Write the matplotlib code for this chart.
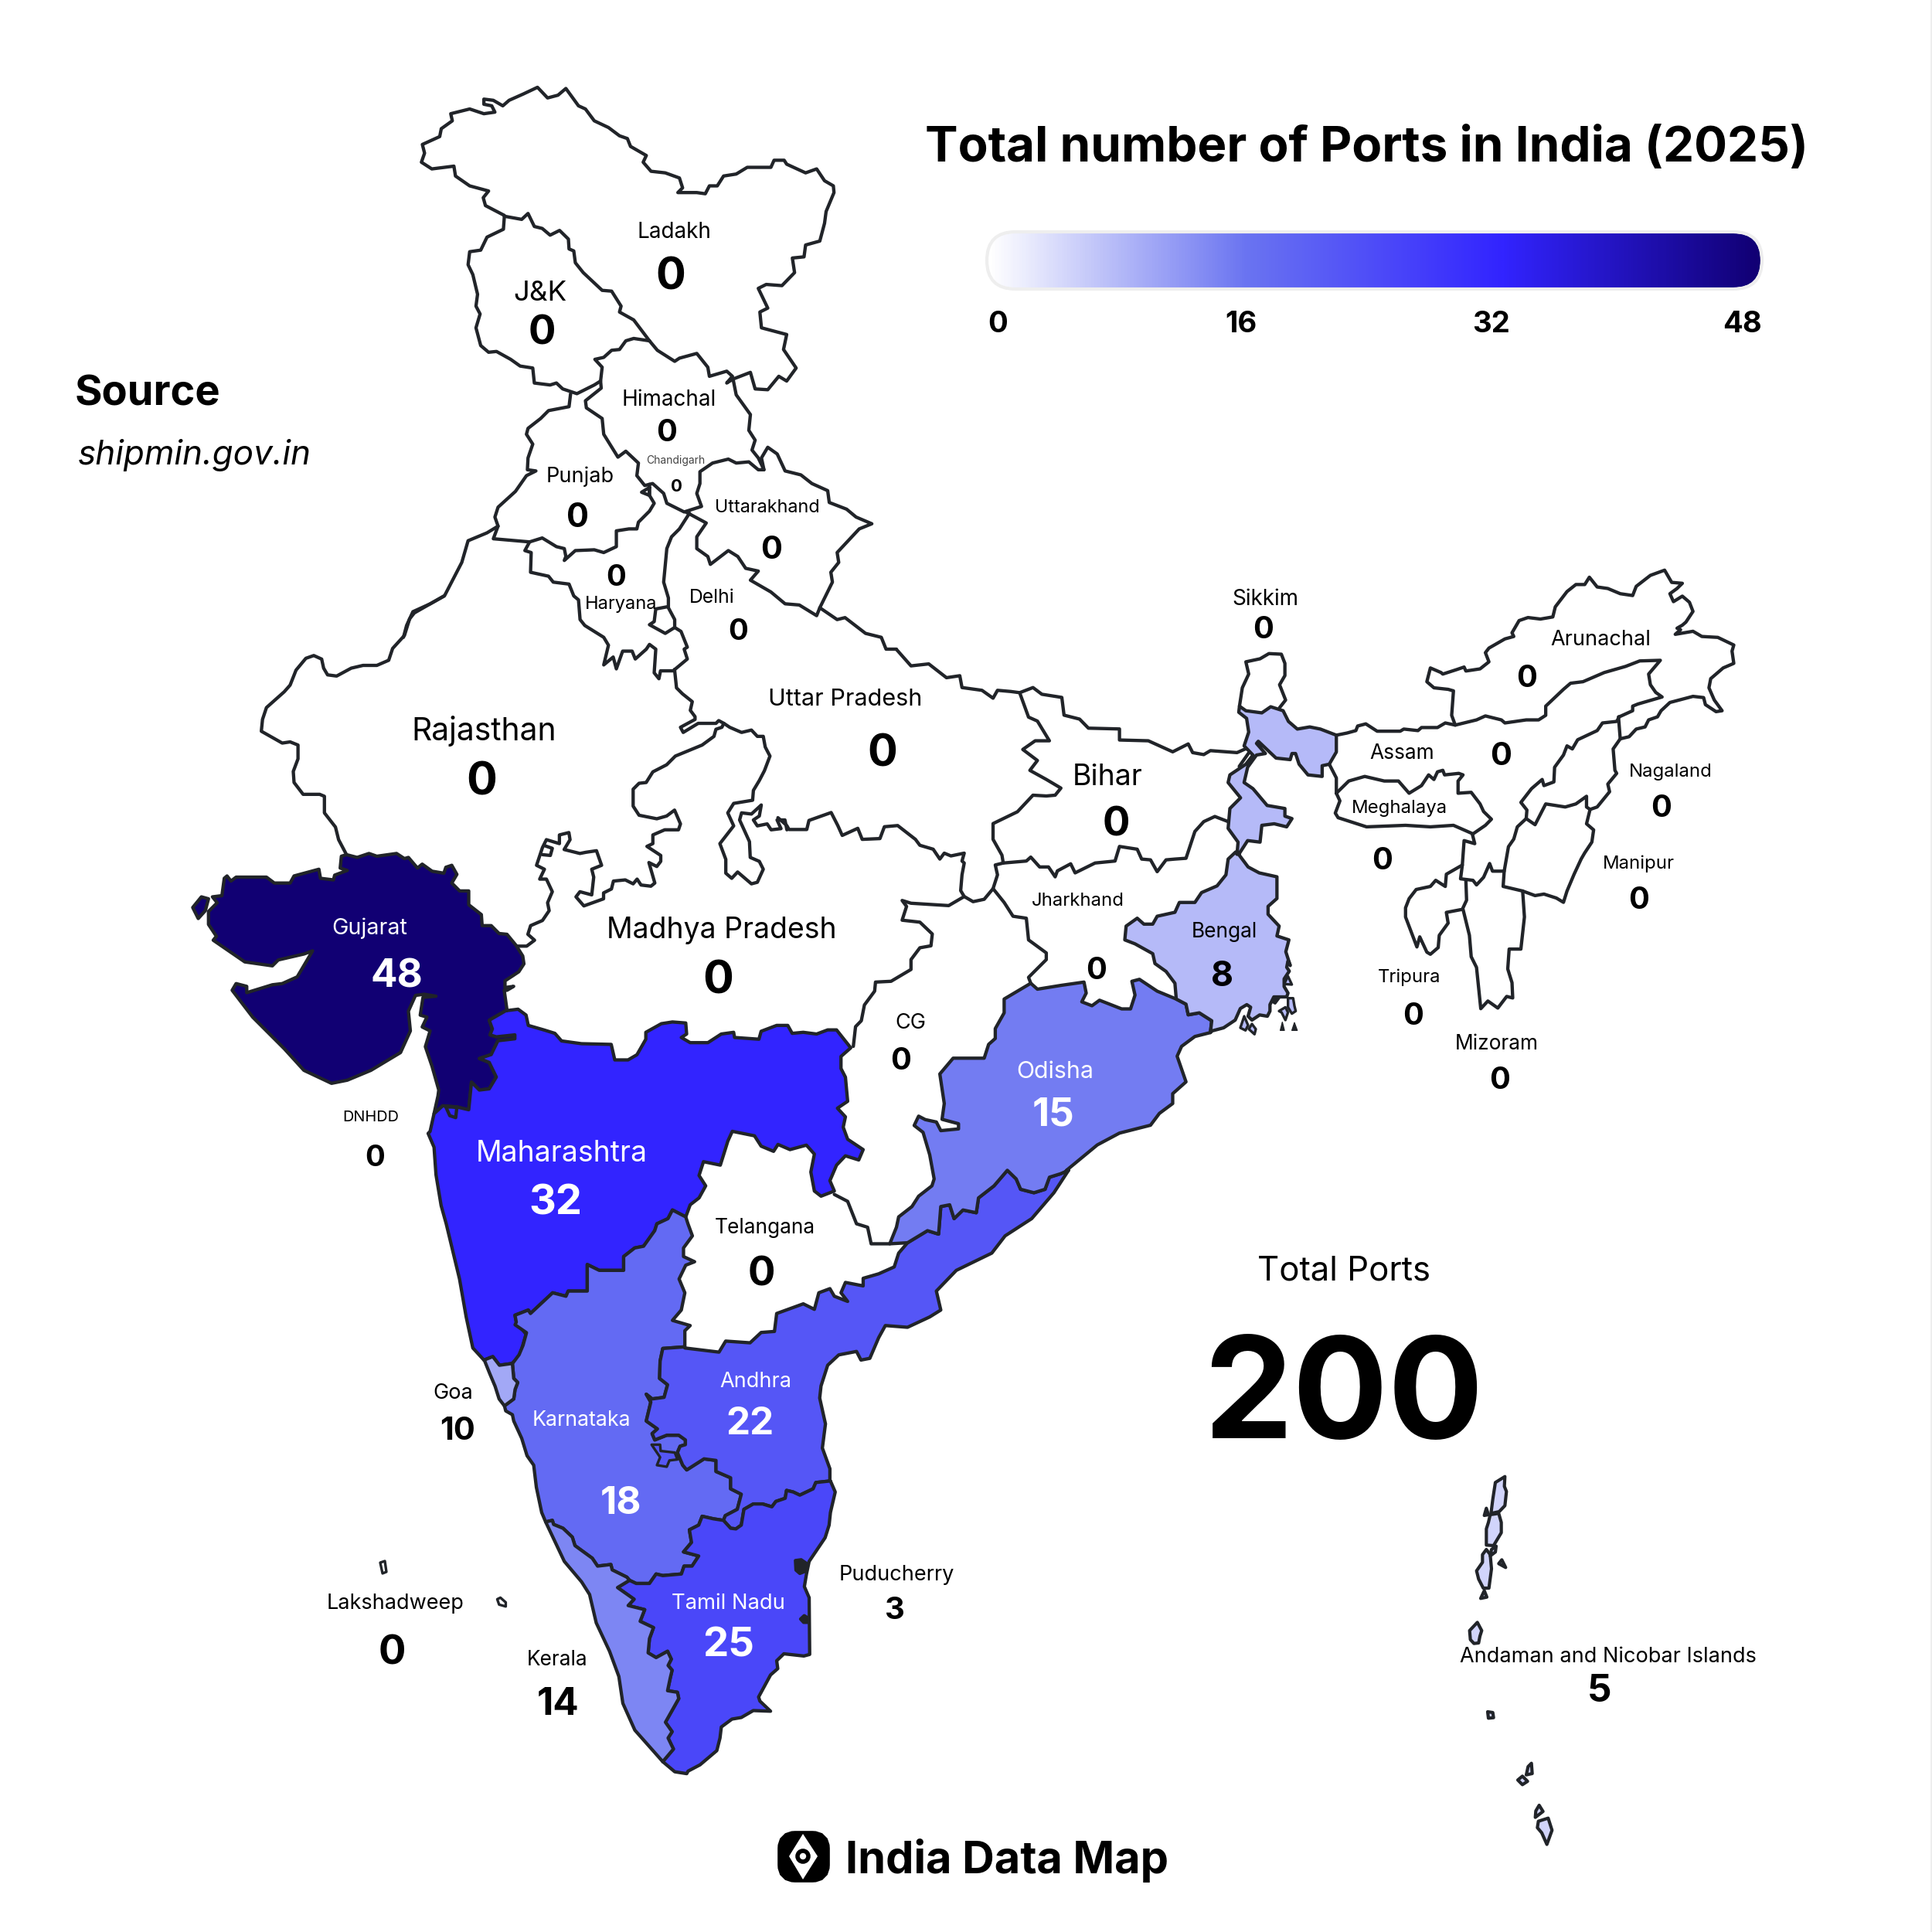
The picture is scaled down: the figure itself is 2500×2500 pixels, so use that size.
import numpy as np
import matplotlib
matplotlib.use('Agg')
import matplotlib.pyplot as plt
from matplotlib.colors import LinearSegmentedColormap
from matplotlib.patches import Polygon, FancyBboxPatch, Circle, Rectangle

plt.rcParams['font.family'] = ['Inter', 'DejaVu Sans']

# values
STATE_NAMES = ['Ladakh', 'J&K', 'Himachal', 'Chandigarh', 'Punjab', 'Uttarakhand', 'Haryana', 'Delhi', 'Sikkim',
               'Arunachal', 'Uttar Pradesh', 'Assam', 'Rajasthan', 'Bihar', 'Nagaland', 'Meghalaya', 'Manipur',
               'Jharkhand', 'Gujarat', 'Bengal', 'Madhya Pradesh', 'CG', 'Tripura', 'Mizoram', 'Odisha', 'DNHDD',
               'Maharashtra', 'Telangana', 'Andhra', 'Goa', 'Karnataka', 'Lakshadweep', 'Puducherry', 'Tamil Nadu',
               'Kerala', 'Andaman and Nicobar Islands']
PORT_COUNTS = [0, 0, 0, 0, 0, 0, 0, 0, 0,
               0, 0, 0, 0, 0, 0, 0, 0,
               0, 48, 8, 0, 0, 0, 0, 15, 0,
               32, 0, 22, 10, 18, 0, 3, 25,
               14, 5]
TOTAL_PORTS = 200
SCALE_TICKS = [0, 16, 32, 48]
SCALE_COLORS = ['#FFFFFF', '#6A74F1', '#3224FF', '#110073']
TITLE = 'Total number of Ports in India (2025)'
SOURCE = 'shipmin.gov.in'

# label layout: label x, y, size, value x, y, size (read at 1568 px wide)
LAYOUT = {
    'Ladakh': (547, 187, 17.5, 544, 222, 36), 'J&K': (438, 236, 23, 440, 268, 33),
    'Himachal': (543, 323, 17.5, 541, 349, 25), 'Chandigarh': (548, 373, 8.7, 549, 394, 14),
    'Punjab': (471, 385, 17, 469, 418, 27), 'Uttarakhand': (623, 411, 14.7, 626, 444, 26),
    'Haryana': (504, 489, 14.8, 500, 467, 24), 'Delhi': (578, 484, 15.5, 599, 511, 24),
    'Sikkim': (1027, 485, 17.5, 1025, 509, 25), 'Arunachal': (1299, 518, 17, 1239, 549, 25),
    'Uttar Pradesh': (686, 566, 19.2, 716, 609, 36), 'Assam': (1138, 610, 16.5, 1218, 612, 26),
    'Rajasthan': (393, 591, 25.6, 391, 632, 37), 'Bihar': (899, 629, 23.5, 906, 667, 33),
    'Nagaland': (1356, 625, 15, 1348, 654, 25), 'Meghalaya': (1136, 655, 15, 1122, 697, 25),
    'Manipur': (1330, 700, 15, 1330, 729, 25), 'Jharkhand': (875, 730, 15, 890, 786, 25),
    'Gujarat': (300, 752, 18, 322, 790, 32), 'Bengal': (994, 755, 16.5, 992, 790, 28),
    'Madhya Pradesh': (586, 753, 23.4, 583, 793, 37), 'CG': (739, 829, 17, 731, 859, 25),
    'Tripura': (1144, 792, 15, 1147, 823, 25), 'Mizoram': (1215, 846, 16.5, 1217, 875, 25),
    'Odisha': (856, 868, 19, 855, 902, 32), 'DNHDD': (301, 906, 12.5, 304, 938, 24),
    'Maharashtra': (456, 934, 23.4, 451, 974, 34), 'Telangana': (621, 995, 16.5, 618, 1032, 33),
    'Andhra': (613, 1120, 17, 609, 1153, 31), 'Goa': (368, 1129, 17, 371, 1159, 26),
    'Karnataka': (472, 1151, 16.8, 504, 1218, 31), 'Lakshadweep': (321, 1300, 17, 318, 1339, 33),
    'Puducherry': (728, 1277, 17, 726, 1305, 25), 'Tamil Nadu': (591, 1300, 17.2, 591, 1333, 33),
    'Kerala': (452, 1346, 16.5, 453, 1381, 31), 'Andaman and Nicobar Islands': (1305, 1343, 17, 1298, 1370, 31),
}
WHITE_TEXT = ['Gujarat', 'Odisha', 'Maharashtra', 'Andhra', 'Karnataka', 'Tamil Nadu']

K = 1568.0
CROP_A = (520, 90, K / 640, K / 800)
CROP_B = (230, 760, K / 800, K / 800)
CROP_C = (800, 780, K / 900, K / 800)
CROP_D = (520, 1280, K / 900, K / 700)
CROP_E = (620, 1700, K / 540, K / 640)
CROP_F = (1580, 720, K / 720, K / 620)
CROP_G = (1860, 1880, 3.0, 3.0)
CROP_H = (1560, 1230, 3.0, 3.0)
CROP_I = (1020, 2000, 3.0, 3.0)


def P(crop, pts):
    a = np.array(pts, dtype=float)
    return np.column_stack((crop[0] + a[:, 0] / crop[2], crop[1] + a[:, 1] / crop[3]))


# ---- coloured states, shared borders ----
guj_a = P(CROP_B, [(428, 678), (455, 685), (485, 675), (505, 682), (555, 675), (575, 688), (585, 685), (608, 712),
                   (620, 702), (645, 720), (675, 725), (680, 710), (695, 705), (708, 728), (695, 750), (715, 770),
                   (738, 770), (738, 805), (770, 830), (772, 858), (795, 858), (815, 878), (835, 880), (858, 908),
                   (875, 935), (878, 955), (865, 975), (850, 985), (830, 998), (830, 1015), (852, 1012), (835, 1022),
                   (828, 1022), (835, 1072)])
guj_mah = P(CROP_B, [(835, 1072), (790, 1098), (798, 1120), (792, 1135), (808, 1140), (855, 1135), (855, 1145),
                     (812, 1150), (795, 1185), (765, 1195), (790, 1205), (808, 1242), (790, 1272), (765, 1275),
                     (745, 1255), (738, 1325), (708, 1318), (680, 1318), (690, 1340), (705, 1345), (708, 1318),
                     (672, 1315), (650, 1335)])
guj_b = P(CROP_B, [(650, 1335), (660, 1290), (662, 1275), (645, 1215), (628, 1165), (640, 1125), (620, 1115), (632, 1090),
                   (615, 1085), (622, 1040), (655, 1037), (625, 1032), (603, 1035), (585, 1075), (590, 1125), (565, 1180),
                   (490, 1225), (430, 1250), (390, 1258), (320, 1225), (270, 1170), (190, 1090), (138, 1022), (148, 1005),
                   (175, 1012), (175, 1028), (240, 1008), (265, 1005), (303, 988), (342, 922), (320, 930), (255, 945),
                   (240, 960), (170, 950), (90, 895), (98, 885), (78, 855), (78, 822), (100, 800), (88, 785), (112, 782),
                   (118, 738), (125, 732), (135, 745), (148, 735), (225, 735), (245, 750), (285, 750), (295, 732),
                   (358, 715), (362, 738), (395, 742), (398, 730), (430, 718), (412, 712), (415, 682)])
guj_island = P(CROP_B, [(38, 812), (60, 785), (78, 790), (70, 820), (52, 840)])

mah_west = P(CROP_B, [(650, 1335), (640, 1380), (635, 1385), (650, 1420), (655, 1490), (668, 1568)])
mah_coast = P(CROP_D, [(100, 680), (115, 760), (130, 840), (145, 950), (160, 1040), (185, 1075)])
mah_goa = P(CROP_D, [(185, 1075), (205, 1065), (220, 1090), (248, 1085)])
mah_ghat = P(CROP_D, [(248, 1085), (265, 1065), (280, 1000), (258, 965)])
mah_kar = P(CROP_D, [(258, 965), (255, 945), (285, 930), (290, 940), (340, 880), (370, 890), (375, 875), (418, 875),
                     (418, 798), (445, 815), (500, 815), (500, 775), (525, 750), (545, 745), (570, 700), (575, 680),
                     (600, 665), (610, 640), (640, 660)])
mah_north = P(CROP_D, [(640, 660), (650, 625), (670, 605), (685, 570), (670, 540), (680, 500), (718, 510), (735, 440),
                       (745, 412), (795, 425), (810, 455), (838, 470), (848, 450), (875, 465), (912, 452), (930, 478),
                       (922, 530), (930, 585), (945, 600), (975, 585), (965, 555), (980, 510), (1000, 483), (1030, 495),
                       (1040, 465), (1005, 435), (995, 400), (1000, 370), (982, 345), (1005, 325), (1000, 255), (990, 230),
                       (990, 195), (1012, 170), (980, 118), (960, 118), (935, 130), (905, 125), (880, 128), (870, 105),
                       (845, 105), (810, 122), (805, 145), (750, 140), (748, 125), (720, 130), (690, 155), (650, 155),
                       (630, 140), (642, 130), (640, 98), (610, 95), (585, 100), (550, 125), (550, 145), (530, 190),
                       (510, 205), (480, 205), (472, 160), (405, 158), (360, 150), (345, 128), (320, 118), (285, 105),
                       (280, 75), (262, 58), (237, 62)])

kar_tel = P(CROP_D, [(640, 660), (645, 680), (655, 715), (635, 750), (635, 775), (660, 790), (640, 800), (625, 840),
                     (638, 880), (630, 930), (610, 960), (650, 975), (638, 990), (638, 1040)])
kar_ap = P(CROP_E, [(772, 105), (690, 110), (680, 150), (678, 205), (708, 225), (695, 265), (650, 270), (628, 255),
                    (645, 280), (628, 340), (670, 365), (650, 380), (660, 400), (705, 385), (750, 385), (775, 400),
                    (775, 415), (755, 420), (745, 440), (765, 480), (780, 495), (845, 460), (890, 465), (890, 500),
                    (945, 520), (945, 555), (985, 572), (970, 620), (925, 640), (918, 655)])
kar_tn = P(CROP_E, [(918, 655), (880, 650), (838, 642), (825, 670), (790, 685), (798, 725), (768, 755), (825, 768),
                    (800, 800), (770, 800), (760, 825), (690, 830), (665, 825), (640, 855), (590, 855), (565, 845)])
kar_ker = P(CROP_E, [(565, 845), (555, 835), (500, 812), (495, 795), (445, 800), (425, 775), (360, 735), (350, 708),
                     (315, 680), (280, 668), (275, 655), (250, 660)])
kar_coast = P(CROP_E, [(250, 660), (235, 630), (215, 550), (205, 480), (180, 450), (160, 395), (130, 340), (125, 320),
                       (100, 308), (95, 292)])
goa_east = P(CROP_E, [(95, 292), (130, 270), (135, 240), (145, 218), (130, 205), (125, 158)])
kar_mah_e = P(CROP_E, [(125, 158), (150, 130), (165, 100), (178, 60), (135, 35)])
goa_west = P(CROP_E, [(20, 148), (40, 190), (60, 230), (75, 270), (95, 292)])
ka_enclave = P(CROP_E, [(648, 415), (680, 415), (682, 435), (735, 440), (745, 462), (715, 465), (705, 485), (668, 480),
                        (680, 455)])

ap_tel = P(CROP_D, [(638, 1040), (715, 1052), (730, 1020), (785, 1025), (810, 995), (840, 992), (845, 940), (905, 912),
                    (930, 928), (940, 880), (965, 868), (975, 890), (1005, 905), (990, 880), (1000, 850), (1040, 860),
                    (1040, 838), (1075, 825), (1110, 805), (1120, 765), (1140, 735)])
ap_odisha = P(CROP_D, [(1140, 735), (1185, 700), (1210, 710), (1215, 630), (1235, 625), (1245, 665), (1265, 640),
                       (1295, 648), (1300, 605), (1335, 570), (1365, 525), (1385, 550), (1395, 580), (1425, 590),
                       (1450, 580), (1460, 545), (1485, 535), (1503, 525)])
ap_coast = P(CROP_D, [(1503, 525), (1470, 590), (1420, 665), (1360, 715), (1330, 765), (1250, 815), (1205, 875),
                      (1215, 930), (1190, 950), (1140, 980), (1090, 975), (1075, 1010), (1055, 1070), (1035, 1075),
                      (1025, 1050), (985, 1060), (960, 1090), (945, 1150), (942, 1185), (955, 1260), (948, 1330),
                      (965, 1390), (965, 1425)])
ap_tn = P(CROP_E, [(1320, 530), (1265, 535), (1255, 555), (1205, 575), (1180, 565), (1155, 560), (1150, 585), (1115, 595),
                   (1100, 612), (1065, 603), (1030, 603), (995, 620), (985, 670), (965, 682), (945, 680), (918, 655)])
tn_coast = P(CROP_E, [(1320, 530), (1338, 565), (1320, 630), (1315, 670), (1300, 710), (1240, 785), (1230, 825),
                      (1222, 865), (1240, 900), (1242, 1080), (1220, 1085), (1145, 1078), (1118, 1100), (1122, 1125),
                      (1095, 1145), (1050, 1215), (1055, 1228), (1095, 1260), (1030, 1258), (985, 1280), (950, 1285),
                      (910, 1310), (905, 1345), (893, 1385), (830, 1430), (785, 1450), (780, 1458), (735, 1452), (690, 1420)])
ker_tn = P(CROP_E, [(690, 1420), (730, 1380), (710, 1345), (725, 1325), (700, 1295), (730, 1250), (750, 1220), (745, 1200),
                    (708, 1195), (718, 1155), (725, 1130), (710, 1115), (722, 1095), (708, 1070), (665, 1090), (635, 1075),
                    (640, 1030), (655, 995), (605, 975), (622, 938), (560, 925), (582, 905), (520, 868), (565, 845)])
ker_coast = P(CROP_E, [(690, 1420), (585, 1320), (540, 1235), (525, 1150), (490, 1070), (440, 980), (415, 890), (385, 850),
                       (320, 785), (250, 660)])
py_blob = P(CROP_I, [(28, 58), (50, 55), (72, 70), (65, 100), (45, 108), (30, 95)])
py_blob2 = P(CROP_I, [(48, 285), (62, 272), (78, 282), (78, 298), (60, 298)])

odi_north = P(CROP_C, [(930, 965), (945, 980), (1000, 970), (1050, 962), (1055, 990), (1045, 1012), (1068, 1022),
                       (1085, 1008), (1135, 1030), (1155, 1030), (1165, 995), (1158, 960), (1175, 955), (1215, 985),
                       (1258, 1005)])
ben_odi = P(CROP_C, [(1258, 1005), (1280, 1018), (1285, 1045), (1310, 1040), (1338, 1060), (1335, 1090)])
odi_coast = P(CROP_C, [(1335, 1090), (1300, 1100), (1270, 1125), (1260, 1150), (1280, 1215), (1250, 1245), (1250, 1270),
                       (1220, 1295), (1200, 1325), (1130, 1345), (1080, 1375), (1010, 1440)])
odi_west_d = P(CROP_D, [(1140, 735), (1100, 738), (1115, 690), (1120, 660), (1150, 630), (1165, 600), (1195, 570),
                        (1200, 550), (1190, 480), (1175, 415), (1155, 395), (1165, 368), (1180, 378), (1205, 385),
                        (1215, 410), (1255, 405), (1255, 390), (1220, 378)])
odi_west_c = P(CROP_C, [(730, 1310), (735, 1270), (725, 1195), (755, 1155), (825, 1155), (835, 1120), (850, 1105),
                        (850, 1080), (870, 1040), (870, 1005), (930, 965)])

ben_north = P(CROP_F, [(52, 490), (70, 505), (115, 512), (140, 492), (175, 505), (190, 540), (215, 565), (250, 558),
                       (280, 565), (325, 585), (325, 640), (305, 680), (285, 685), (285, 720), (245, 715), (220, 680),
                       (210, 645), (200, 645), (195, 665), (155, 660), (105, 605), (100, 612), (125, 645), (100, 650),
                       (75, 690), (65, 740), (90, 760), (130, 815), (180, 825), (180, 850), (200, 858), (185, 885),
                       (150, 875), (115, 880), (110, 935), (75, 930), (50, 975)])
ben_south = P(CROP_C, [(1400, 640), (1420, 670), (1445, 685), (1485, 695), (1485, 750), (1465, 770), (1465, 790),
                       (1490, 820), (1485, 845), (1512, 855), (1505, 885), (1515, 920)])
ben_delta = P(CROP_H, [(320, 40), (315, 65), (325, 80), (305, 110), (305, 140), (320, 165), (315, 180), (265, 180),
                       (250, 210), (250, 235), (240, 255), (210, 250), (180, 270), (165, 255), (175, 220), (160, 210),
                       (135, 225), (115, 270), (70, 300), (25, 312)])
ben_jhk = P(CROP_C, [(1258, 1005), (1255, 965), (1235, 935), (1210, 915), (1205, 890), (1165, 865), (1142, 855),
                     (1145, 820), (1170, 800), (1185, 815), (1205, 815), (1215, 795), (1255, 785), (1265, 760), (1300, 760),
                     (1315, 735), (1350, 718), (1370, 690), (1375, 650), (1392, 632)])
ben_west = P(CROP_F, [(45, 975), (48, 935), (20, 890), (25, 825), (55, 790), (20, 740), (25, 715), (70, 680), (90, 650),
                      (65, 620), (78, 575), (72, 530), (50, 510), (52, 490)])
ben_bits = [P(CROP_H, p) for p in [
    [(320, 100), (335, 132), (305, 130)],
    [(150, 255), (165, 290), (155, 310), (135, 300)],
    [(180, 285), (195, 305), (190, 325), (168, 305)],
    [(285, 235), (310, 220), (320, 240), (310, 270), (295, 240)],
    [(320, 185), (340, 185), (345, 215), (350, 235), (335, 245), (320, 220)],
    [(262, 200), (275, 185), (285, 185), (270, 205)],
]]
delta_dark = [P(CROP_H, [(298, 278), (306, 310), (290, 310)]),
              P(CROP_H, [(345, 280), (356, 310), (335, 310)])]

andaman = [P(CROP_G, p) for p in [
    [(262, 92), (225, 115), (215, 180), (208, 235), (240, 228), (262, 205), (268, 150), (260, 130)],
    [(205, 240), (238, 235), (248, 270), (248, 310), (218, 360), (190, 358), (190, 295), (198, 270)],
    [(190, 375), (205, 395), (210, 450), (200, 525), (178, 525), (160, 490), (152, 458), (175, 425), (175, 395)],
    [(205, 400), (210, 375), (228, 362), (225, 385)],
    [(182, 535), (192, 560), (168, 565)],
    [(190, 215), (198, 240), (182, 243)],
    [(250, 415), (265, 445), (238, 430)],
    [(155, 658), (172, 690), (165, 712), (160, 738), (142, 740), (128, 725), (125, 690)],
    [(195, 1005), (215, 1008), (218, 1028), (198, 1030)],
    [(352, 1218), (365, 1205), (368, 1245), (345, 1250)],
    [(330, 1255), (350, 1275), (330, 1288), (312, 1270)],
    [(395, 1368), (410, 1392), (380, 1415), (382, 1390)],
    [(392, 1430), (430, 1418), (445, 1465), (425, 1520), (405, 1475), (388, 1455)],
]]

# ---- white states, only the lines are needed ----
WHITE_LINES = [
    # Ladakh and J&K outer
    P(CROP_A, [(325, 370), (265, 345), (258, 325), (275, 308), (215, 295), (170, 270), (165, 245), (95, 252), (62, 235),
               (72, 212), (65, 190), (120, 170), (125, 150), (160, 130), (155, 112), (215, 100), (260, 112), (295, 108),
               (285, 92), (260, 88), (260, 75), (290, 78), (320, 92), (340, 78), (385, 62), (430, 45), (462, 72), (495, 65),
               (520, 48), (560, 92), (582, 100), (610, 130), (655, 147), (690, 168), (715, 175), (725, 195), (775, 218),
               (765, 235), (790, 258), (835, 262), (880, 275), (890, 300), (875, 312), (935, 312), (962, 315), (975, 295),
               (1000, 295), (1020, 270), (1060, 265), (1095, 248), (1170, 248), (1180, 230), (1212, 230), (1220, 240),
               (1280, 262), (1315, 252), (1340, 282), (1368, 295), (1370, 312), (1345, 360), (1340, 390), (1325, 435),
               (1280, 445), (1275, 475), (1238, 478), (1245, 515), (1205, 548), (1155, 545), (1130, 555), (1160, 605),
               (1135, 615), (1140, 655), (1220, 672), (1210, 710), (1250, 757), (1220, 790), (1195, 778), (1160, 812),
               (1120, 810), (1105, 768), (1050, 785), (1030, 795), (1048, 778), (1030, 765), (975, 778), (970, 755),
               (935, 720), (880, 732), (865, 740), (810, 712), (785, 688)]),
    P(CROP_A, [(325, 372), (380, 380), (400, 365), (420, 398), (445, 403), (470, 420), (500, 408), (528, 430), (530, 455),
               (545, 460), (550, 490), (575, 515), (635, 560), (665, 562), (695, 600), (690, 615), (735, 635), (785, 688)]),
    P(CROP_A, [(325, 372), (322, 405), (270, 425), (250, 458), (215, 462), (210, 495), (225, 520), (240, 570), (235, 600),
               (248, 620), (235, 655), (250, 700), (275, 717), (300, 715), (345, 735), (375, 752), (415, 757), (420, 795),
               (470, 800), (490, 795), (510, 810), (555, 822), (610, 800), (630, 790)]),
    # Himachal
    P(CROP_A, [(785, 688), (735, 682), (710, 688), (690, 710), (665, 712), (640, 730), (612, 735), (635, 755), (630, 790),
               (632, 808), (582, 840), (585, 858), (635, 885), (640, 925), (685, 983), (710, 968), (750, 998), (745, 1030),
               (770, 1055), (795, 1050), (830, 1075), (840, 1100), (895, 1122), (950, 1108), (935, 1075), (945, 1050),
               (945, 1020), (985, 998), (1035, 988), (1060, 998), (1100, 995), (1130, 1015), (1148, 1015), (1130, 985),
               (1110, 965), (1120, 940), (1100, 915), (1105, 875), (1060, 825), (1050, 785)]),
    # Chandigarh
    P(CROP_A, [(785, 1060), (760, 1072), (785, 1080), (785, 1060)]),
    # Punjab
    P(CROP_A, [(535, 822), (530, 855), (465, 865), (440, 885), (400, 910), (395, 925), (415, 950), (400, 985), (398, 1015),
               (425, 1018), (395, 1030), (360, 1070), (305, 1110), (295, 1135), (305, 1158), (290, 1190), (405, 1198),
               (445, 1188), (490, 1210), (515, 1215), (520, 1235), (515, 1245), (550, 1220), (610, 1218), (640, 1225),
               (680, 1210), (680, 1170), (720, 1165), (745, 1165), (750, 1148), (785, 1120), (800, 1100), (785, 1080),
               (785, 1052)]),
    # Haryana
    P(CROP_A, [(405, 1198), (390, 1220), (410, 1225), (408, 1275), (465, 1285), (480, 1300), (530, 1305), (545, 1335),
               (560, 1345), (565, 1395), (580, 1410), (640, 1440), (655, 1460), (640, 1510), (670, 1490), (680, 1520),
               (700, 1475), (730, 1475), (740, 1495), (775, 1470), (785, 1458), (805, 1470), (800, 1530), (815, 1545),
               (820, 1525), (860, 1525), (905, 1495), (895, 1470), (905, 1465), (885, 1425), (865, 1415), (865, 1395),
               (845, 1365), (845, 1340), (830, 1300), (840, 1215), (855, 1185), (880, 1165), (912, 1125)]),
    # Delhi
    P(CROP_A, [(845, 1362), (805, 1368), (800, 1400), (785, 1408), (835, 1430), (865, 1415)]),
    # Uttarakhand
    P(CROP_A, [(900, 1122), (965, 1150), (935, 1185), (935, 1215), (970, 1235), (978, 1255), (1035, 1220), (1065, 1235),
               (1090, 1265), (1130, 1272), (1105, 1295), (1170, 1325), (1215, 1355), (1260, 1358), (1315, 1385), (1325, 1365),
               (1365, 1300), (1360, 1275), (1385, 1250), (1380, 1225), (1450, 1165), (1490, 1152), (1440, 1135), (1410, 1115),
               (1355, 1098), (1350, 1068), (1300, 1050), (1265, 1028), (1215, 1018), (1190, 975), (1160, 958), (1140, 985),
               (1148, 1015)]),
    # UP north and Nepal border
    P(CROP_A, [(1325, 1365), (1380, 1395), (1405, 1390), (1470, 1430), (1520, 1440), (1535, 1470), (1568, 1470)]),
    P(CROP_C, [(627, 118), (660, 160), (700, 155), (740, 190), (770, 185), (775, 215), (820, 222), (845, 242), (855, 222),
               (885, 225), (905, 228), (935, 215), (955, 232), (1000, 240), (1005, 285), (1040, 295), (1060, 318), (1130, 320),
               (1130, 348), (1195, 350), (1250, 378), (1285, 358), (1295, 380), (1320, 385), (1335, 375), (1395, 380),
               (1415, 370), (1425, 375), (1400, 415)]),
    # Rajasthan west
    P(CROP_A, [(305, 1158), (270, 1175), (210, 1195), (190, 1250), (135, 1335), (90, 1355), (35, 1375), (15, 1410), (5, 1440)]),
    P(CROP_B, [(675, 22), (600, 65), (588, 80), (575, 122), (545, 155), (535, 185), (505, 198), (470, 198), (440, 205),
               (403, 225), (380, 222), (370, 205), (365, 182), (345, 173), (325, 180), (300, 210), (285, 248), (270, 265),
               (225, 305), (215, 335), (212, 365), (265, 395), (285, 392), (305, 400), (305, 435), (293, 467), (295, 495),
               (318, 525), (360, 525), (372, 530), (372, 572), (400, 608), (408, 640), (428, 678)]),
    # Rajasthan east, UP and MP
    P(CROP_B, [(1260, 208), (1265, 255), (1280, 270), (1305, 290), (1300, 312), (1312, 328), (1312, 335), (1275, 355),
               (1282, 368), (1320, 345), (1365, 345), (1372, 338), (1385, 345), (1380, 355), (1365, 360), (1360, 378),
               (1330, 400), (1262, 428), (1240, 450), (1205, 468), (1188, 495), (1170, 497), (1155, 512), (1155, 555),
               (1170, 578), (1215, 587), (1240, 580), (1260, 565), (1275, 600), (1270, 615), (1235, 615), (1205, 628),
               (1205, 650), (1190, 657), (1225, 680), (1225, 695), (1215, 708), (1195, 698), (1210, 750), (1200, 758),
               (1175, 755), (1165, 740), (1155, 752), (1135, 742), (1105, 745), (1100, 765), (1080, 775), (1080, 790),
               (1030, 808), (1010, 785), (1020, 772), (1050, 780), (1055, 735), (1050, 715), (1075, 705), (1062, 668),
               (1035, 672), (1020, 675), (980, 665), (995, 640), (992, 622), (968, 628), (968, 650), (935, 640), (925, 660),
               (910, 705), (930, 715), (918, 740), (935, 740), (950, 772), (938, 800), (942, 820), (925, 845), (895, 858),
               (888, 880), (905, 895), (885, 910), (860, 910)]),
    P(CROP_B, [(930, 655), (950, 662), (945, 680), (925, 678)]),
    P(CROP_B, [(1385, 345), (1400, 355), (1430, 368), (1455, 362), (1470, 378), (1485, 378), (1490, 405), (1502, 428),
               (1488, 465), (1475, 490), (1460, 515), (1458, 540), (1410, 548), (1395, 572), (1410, 605), (1375, 650),
               (1390, 690), (1390, 725), (1405, 738), (1420, 722), (1455, 752), (1470, 748), (1485, 715), (1475, 695),
               (1452, 685), (1450, 645), (1425, 590), (1430, 572), (1455, 575), (1480, 552), (1475, 580), (1460, 590),
               (1470, 605), (1495, 600), (1505, 615), (1530, 612), (1520, 590), (1540, 590), (1545, 615)]),
    P(CROP_C, [(360, 545), (380, 565), (385, 575), (425, 575), (430, 552), (480, 532), (495, 565), (505, 590), (540, 572),
               (550, 600), (590, 598), (600, 568), (630, 565), (670, 600), (680, 615), (710, 625), (725, 650), (735, 635),
               (750, 642), (780, 635), (775, 655), (780, 660), (775, 690), (772, 730), (780, 745), (800, 758), (825, 752),
               (845, 725), (855, 690), (850, 665), (868, 660), (865, 640), (845, 600), (845, 560), (900, 530), (935, 488),
               (965, 490), (985, 488), (998, 470), (965, 448), (928, 425), (945, 400), (912, 372), (940, 350), (972, 350),
               (945, 300), (925, 290), (905, 228)]),
    # Bihar south
    P(CROP_C, [(868, 660), (920, 655), (930, 645), (950, 670), (970, 670), (985, 695), (990, 680), (1020, 662), (1030, 685),
               (1075, 660), (1120, 655), (1130, 618), (1170, 625), (1180, 650), (1200, 652), (1215, 682), (1235, 652),
               (1255, 650), (1280, 648), (1300, 580), (1320, 555), (1345, 542), (1375, 555)]),
    # CG and MP, Jharkhand west
    P(CROP_C, [(780, 745), (745, 768), (660, 762), (640, 755), (650, 770), (640, 805), (680, 810), (708, 840), (705, 870),
               (680, 875), (660, 905), (660, 930), (615, 960), (580, 962), (578, 985), (555, 1020), (548, 1060), (535, 1075),
               (530, 1125)]),
    P(CROP_C, [(845, 725), (870, 760), (890, 795), (920, 800), (925, 855), (965, 888), (965, 905), (925, 950), (930, 965)]),
    # Telangana and CG
    P(CROP_D, [(975, 595), (1005, 615), (1025, 680), (1050, 690), (1058, 738), (1100, 738)]),
    # Sikkim
    P(CROP_F, [(52, 490), (60, 430), (78, 385), (70, 345), (110, 335), (135, 318), (170, 320), (180, 350), (180, 390),
               (165, 420), (182, 470), (165, 495)]),
    # Assam north and Arunachal
    P(CROP_F, [(325, 585), (355, 578), (380, 570), (385, 555), (408, 548), (440, 572), (505, 572), (515, 565), (555, 570),
               (565, 560), (610, 560), (632, 545), (660, 552), (720, 535), (745, 522), (790, 535), (800, 545), (860, 535),
               (895, 535), (915, 520), (915, 490), (965, 435), (985, 415), (1020, 410), (1080, 380), (1140, 360), (1180, 342),
               (1238, 340), (1205, 385), (1210, 420), (1225, 445), (1243, 460), (1175, 483), (1160, 490), (1160, 505),
               (1122, 525)]),
    P(CROP_F, [(660, 552), (650, 520), (655, 440), (640, 435), (600, 430), (580, 410), (590, 365), (620, 380), (625, 385),
               (665, 370), (685, 362), (690, 375), (730, 368), (755, 345), (745, 315), (755, 300), (800, 270), (825, 262),
               (820, 250), (840, 210), (865, 200), (900, 205), (935, 198), (942, 165), (975, 115), (1000, 92), (1025, 92),
               (1038, 68), (1060, 100), (1090, 105), (1125, 122), (1160, 128), (1170, 98), (1210, 62), (1250, 45), (1270, 85),
               (1300, 88), (1285, 105), (1265, 122), (1275, 148), (1300, 130), (1320, 150), (1330, 180), (1310, 215), (1300, 225),
               (1285, 235), (1295, 240), (1280, 255), (1330, 245), (1355, 262), (1400, 265), (1445, 290), (1440, 310), (1445, 350),
               (1415, 365), (1380, 400), (1375, 430), (1390, 470), (1412, 505), (1395, 508), (1365, 485), (1360, 462), (1330, 458),
               (1265, 478), (1240, 505), (1230, 525), (1205, 535), (1195, 558), (1170, 565), (1150, 590), (1125, 597), (1120, 525)]),
    # Nagaland
    P(CROP_F, [(1125, 597), (1105, 630), (1110, 700), (1115, 710), (1090, 745), (1095, 770), (1060, 820), (1040, 828),
               (1030, 820), (1030, 785), (1000, 810), (970, 820), (915, 810), (885, 878), (860, 858), (862, 830), (845, 805),
               (875, 760), (905, 730), (910, 750), (938, 738), (940, 690), (965, 650), (975, 620), (990, 630), (1005, 600),
               (1060, 570), (1075, 545), (1115, 540), (1122, 525)]),
    # Manipur
    P(CROP_F, [(1040, 828), (1030, 875), (1050, 895), (1045, 935), (1025, 970), (1015, 990), (995, 1040), (975, 1095),
               (965, 1132), (945, 1118), (910, 1105), (885, 1110), (850, 1095), (795, 1080), (798, 1030), (810, 950), (825, 925),
               (835, 885), (860, 858)]),
    # Assam south
    P(CROP_F, [(798, 1030), (765, 1030), (757, 1005), (740, 1050), (720, 1075), (710, 1060), (675, 1055), (680, 1010),
               (685, 930), (715, 940), (708, 908)]),
    P(CROP_F, [(305, 680), (325, 725), (325, 775)]),
    # Meghalaya
    P(CROP_F, [(325, 775), (360, 735), (405, 720), (460, 735), (500, 735), (530, 775), (565, 750), (585, 715), (600, 730),
               (610, 705), (625, 700), (630, 715), (670, 710), (682, 715), (668, 735), (668, 775), (705, 772), (730, 810),
               (740, 835), (762, 860), (745, 880), (710, 908), (655, 880), (590, 885), (520, 880), (410, 885), (330, 855),
               (322, 840), (335, 800), (325, 775)]),
    # Tripura
    P(CROP_F, [(680, 1010), (635, 1040), (632, 1080), (605, 1060), (590, 1080), (550, 1090), (530, 1120), (520, 1150),
               (520, 1180), (552, 1278), (560, 1245), (580, 1295), (590, 1302), (612, 1280), (615, 1240), (640, 1200),
               (635, 1165), (680, 1155), (692, 1125), (690, 1060)]),
    # Mizoram
    P(CROP_F, [(682, 1155), (700, 1240), (705, 1310), (720, 1345), (732, 1480), (752, 1455), (780, 1478), (805, 1440),
               (822, 1445), (820, 1395), (808, 1350), (812, 1285), (845, 1285), (855, 1180), (850, 1095)]),
]

lak_a = np.array([(492, 2022), (498, 2020), (500, 2034), (495, 2036)], dtype=float)
lak_b = P(CROP_E, [(68, 905), (80, 900), (100, 915), (100, 928), (75, 922)])

LINE = '#212429'
LW = 3.1


def count(name):
    return PORT_COUNTS[STATE_NAMES.index(name)]


cmap = LinearSegmentedColormap.from_list('ports', list(zip(np.array(SCALE_TICKS) / SCALE_TICKS[-1], SCALE_COLORS)))


def col(name):
    return cmap(count(name) / SCALE_TICKS[-1])


fig = plt.figure(figsize=(25, 25), dpi=100)
ax = fig.add_axes([0, 0, 1, 1])


def fill(pts, color, z=2, lw=LW):
    ax.add_patch(Polygon(pts, closed=True, facecolor=color, edgecolor=LINE, linewidth=lw, joinstyle='round', zorder=z))


fill(np.vstack((guj_a, guj_mah, guj_b)), col('Gujarat'))
fill(guj_island, col('Gujarat'))
fill(np.vstack((mah_west, mah_coast, mah_goa, mah_ghat, mah_kar, mah_north, guj_mah)), col('Maharashtra'))
fill(np.vstack((kar_tel, kar_ap, kar_tn, kar_ker, kar_coast, goa_east, kar_mah_e, mah_kar)), col('Karnataka'))
fill(np.vstack((goa_east, mah_goa[::-1], goa_west)), col('Goa'))
fill(np.vstack((ap_tel, ap_odisha, ap_coast, ap_tn, kar_ap[::-1])), col('Andhra'))
fill(ka_enclave, col('Andhra'), 3, 2.4)
fill(np.vstack((ap_tn[::-1], tn_coast, ker_tn, kar_tn[::-1])), col('Tamil Nadu'))
fill(np.vstack((ker_coast, kar_ker[::-1], ker_tn[::-1])), col('Kerala'))
fill(np.vstack((odi_north, ben_odi, odi_coast, ap_odisha[::-1], odi_west_d, odi_west_c)), col('Odisha'))
fill(np.vstack((ben_north, ben_south, ben_delta, ben_odi[::-1], ben_jhk, ben_west)), col('Bengal'))
for b in ben_bits:
    fill(b, col('Bengal'), 2, 2.4)
for d in delta_dark:
    fill(d, LINE, 2, 1.0)
fill(py_blob, LINE, 3)
fill(py_blob2, LINE, 3)
for isl in andaman:
    fill(isl, col('Andaman and Nicobar Islands'), 2, 3.0)
for lak in (lak_a, lak_b):
    fill(lak, 'white', 2, 2.4)
for seg in WHITE_LINES:
    ax.plot(seg[:, 0], seg[:, 1], color=LINE, linewidth=LW, solid_joinstyle='round', solid_capstyle='round', zorder=1.5)


# text, sizes given in px of the 1568 wide picture
S = 2500 / 1568.0


def put(x, y, s, size, **kw):
    kw.setdefault('ha', 'center')
    kw.setdefault('va', 'center')
    kw.setdefault('color', 'black')
    # va center sits a little high against the bbox, push down with font size
    ax.text(x * S, (y + size * 0.09) * S, s, fontsize=size * S * 0.72, zorder=6, **kw)


for name, value in zip(STATE_NAMES, PORT_COUNTS):
    lx, ly, ls, vx, vy, vs = LAYOUT[name]
    c = 'white' if name in WHITE_TEXT else 'black'
    lab_c = '#444444' if name == 'Chandigarh' else c
    put(lx, ly, name, ls, color=lab_c)
    put(vx, vy, str(value), vs, color=c, fontweight='bold')

put(1109, 117, TITLE, 40, fontweight='bold')
put(120, 317, 'Source', 34, fontweight='bold')
put(158, 367, SOURCE, 27.6, fontstyle='italic')
put(1091, 1029, 'Total Ports', 27.4)
put(1090, 1127, str(TOTAL_PORTS), 115, fontweight='bold')
put(817, 1507, 'India Data Map', 36.2, fontweight='bold')

# colour scale
bar_x0, bar_x1, bar_y0, bar_y1 = 1279, 2278, 302, 372
grad = np.linspace(0, 1, 600).reshape(1, -1)
im = ax.imshow(grad, cmap=cmap, extent=(bar_x0, bar_x1, bar_y1, bar_y0), aspect='auto', zorder=3)
box = FancyBboxPatch((bar_x0, bar_y0), bar_x1 - bar_x0, bar_y1 - bar_y0,
                     boxstyle='round,pad=0,rounding_size=35', facecolor='none', edgecolor='none', transform=ax.transData)
ax.add_patch(box)
im.set_clip_path(box)
ax.add_patch(FancyBboxPatch((bar_x0, bar_y0), bar_x1 - bar_x0, bar_y1 - bar_y0,
                            boxstyle='round,pad=2,rounding_size=37', facecolor='none', edgecolor='#EEEEEE',
                            linewidth=3, zorder=4))
for tick, tx in zip(SCALE_TICKS, [810, 1007, 1210, 1414]):
    put(tx, 261, str(tick), 24, fontweight='bold')

# logo
ax.add_patch(FancyBboxPatch((1018, 2381), 44, 43, boxstyle='round,pad=0,rounding_size=11', facecolor='black',
                            edgecolor='black', linewidth=17, zorder=4))
ax.add_patch(Polygon([(1039, 2373), (1058, 2402), (1039, 2432), (1021, 2402)], closed=True, facecolor='white',
                     edgecolor='none', zorder=5))
ax.add_patch(Circle((1039, 2402), 7, facecolor='none', edgecolor='black', linewidth=4, zorder=6))

# faint band along the right edge of the picture
ax.add_patch(Rectangle((2498, 0), 2, 2500, facecolor='#EEEEEE', edgecolor='none', zorder=1))

ax.set_xlim(0, 2500)
ax.set_ylim(2500, 0)
ax.axis('off')
fig.savefig('out.png', dpi=100, facecolor='white')
